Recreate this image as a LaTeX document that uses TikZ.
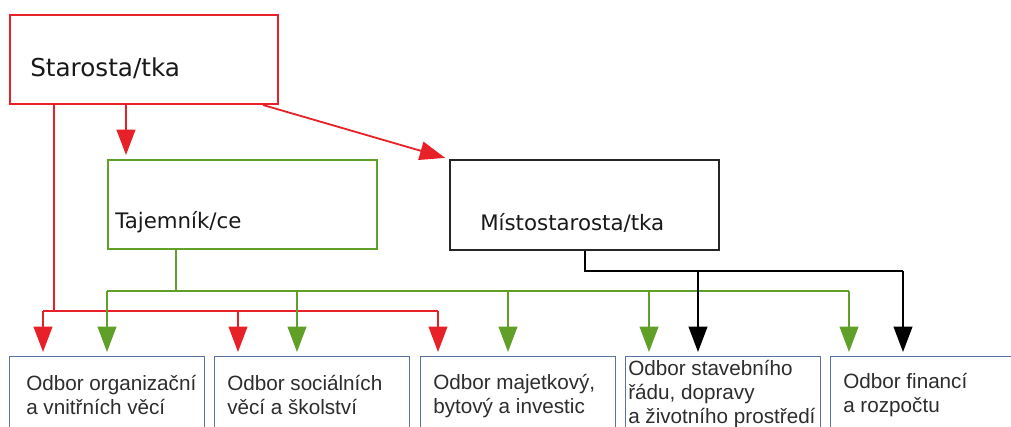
\documentclass[tikz,border=0pt]{standalone}
\usepackage{fontspec}
\setmainfont{Liberation Sans}
\newfontfamily\topfont{DejaVu Sans}
\usetikzlibrary{arrows.meta}
\definecolor{cred}{RGB}{232,32,40}
\definecolor{cgreen}{RGB}{96,160,40}
\definecolor{cblue}{RGB}{90,115,160}
\definecolor{ctext}{RGB}{25,25,25}
\definecolor{cbtext}{RGB}{45,45,45}
\begin{document}
\begin{tikzpicture}[x=0.75pt,y=-0.75pt,
  bigbox/.style={draw, line width=1.5pt, anchor=north west, inner sep=0pt, minimum height=66.75pt},
  dept/.style={draw=cblue, line width=0.8pt, anchor=north west, inner sep=0pt, minimum width=146.25pt, minimum height=70pt},
  toplabel/.style={anchor=base west, inner sep=0pt, text=ctext, font=\topfont\fontsize{16}{19}\selectfont},
  deptlabel/.style={anchor=base west, inner sep=0pt, text=cbtext, align=left, font=\fontsize{15.5}{18}\selectfont},
  conn/.style={line width=1.35pt},
  tip/.style={-{Triangle[length=19pt,width=14pt]}, line width=1.35pt, shorten >=3pt},
]
\useasboundingbox (0,0) rectangle (1011,427);
\clip (0,0) rectangle (1011,427);
\fill[white] (0,0) rectangle (1011,427);

% boxes
\node[bigbox, draw=cred, minimum width=201pt] (star) at (9,14) {};
\node[bigbox, draw=cgreen, minimum width=201.75pt] (taj) at (107,159) {};
\node[bigbox, draw=black!85, minimum width=201.75pt, minimum height=67.5pt] (mist) at (449,159) {};

\node[dept] (b1) at (9,356) {};
\node[dept] (b2) at (214,356) {};
\node[dept] (b3) at (420,356) {};
\node[dept] (b4) at (625,356) {};
\node[dept] (b5) at (830,356) {};

% labels
\node[toplabel, font=\topfont\fontsize{18.5}{22}\selectfont] (starl) at (30,77) {Starosta/tka};
\node[toplabel] (tajl) at (115,229) {Tajemník/ce};
\node[toplabel] (mistl) at (480,231) {Místostarosta/tka};

\node[deptlabel] (t1) at (26,415) {Odbor organizační\\a vnitřních věcí};
\node[deptlabel] (t2) at (227,415) {Odbor sociálních\\věcí a školství};
\node[deptlabel] (t3) at (433,414) {Odbor majetkový,\\bytový a investic};
\node[deptlabel] (t4) at (628,424) {Odbor stavebního\\řádu, dopravy\\a životního prostředí};
\node[deptlabel] (t5) at (843,413) {Odbor financí\\a rozpočtu};

% red connectors
\draw[tip, cred] (126,0 |- star.south) -- (126,0 |- taj.north);
\draw[tip, cred] (263,0 |- star.south) -- (mist.north west);
\coordinate (rtop) at (54,0 |- star.south);
\coordinate (rj) at (54,311);
\coordinate (rL) at (43,311);
\coordinate (rM) at (238,311);
\coordinate (rR) at (438,311);
\draw[conn, cred] (rtop) -- (rj);
\draw[conn, cred] (rL) -- (rR);
\draw[tip, cred] (rL) -- (rL |- b1.north);
\draw[tip, cred] (rM) -- (rM |- b2.north);
\draw[tip, cred] (rR) -- (rR |- b3.north);

% green connectors
\coordinate (gtop) at (176,0 |- taj.south);
\coordinate (gj) at (176,291);
\coordinate (g1) at (107,291);
\coordinate (g2) at (297,291);
\coordinate (g3) at (508,291);
\coordinate (g4) at (649,291);
\coordinate (g5) at (849,291);
\draw[conn, cgreen] (gtop) -- (gj);
\draw[conn, cgreen] (g1) -- (g5);
\draw[tip, cgreen] (g1) -- (g1 |- b1.north);
\draw[tip, cgreen] (g2) -- (g2 |- b2.north);
\draw[tip, cgreen] (g3) -- (g3 |- b3.north);
\draw[tip, cgreen] (g4) -- (g4 |- b4.north);
\draw[tip, cgreen] (g5) -- (g5 |- b5.north);

% black connectors
\coordinate (ktop) at (585,0 |- mist.south);
\coordinate (k1) at (698,271);
\coordinate (k2) at (903,271);
\draw[conn, black] (ktop) |- (k2);
\draw[tip, black] (k1) -- (k1 |- b4.north);
\draw[tip, black] (k2) -- (k2 |- b5.north);
\end{tikzpicture}
\end{document}
